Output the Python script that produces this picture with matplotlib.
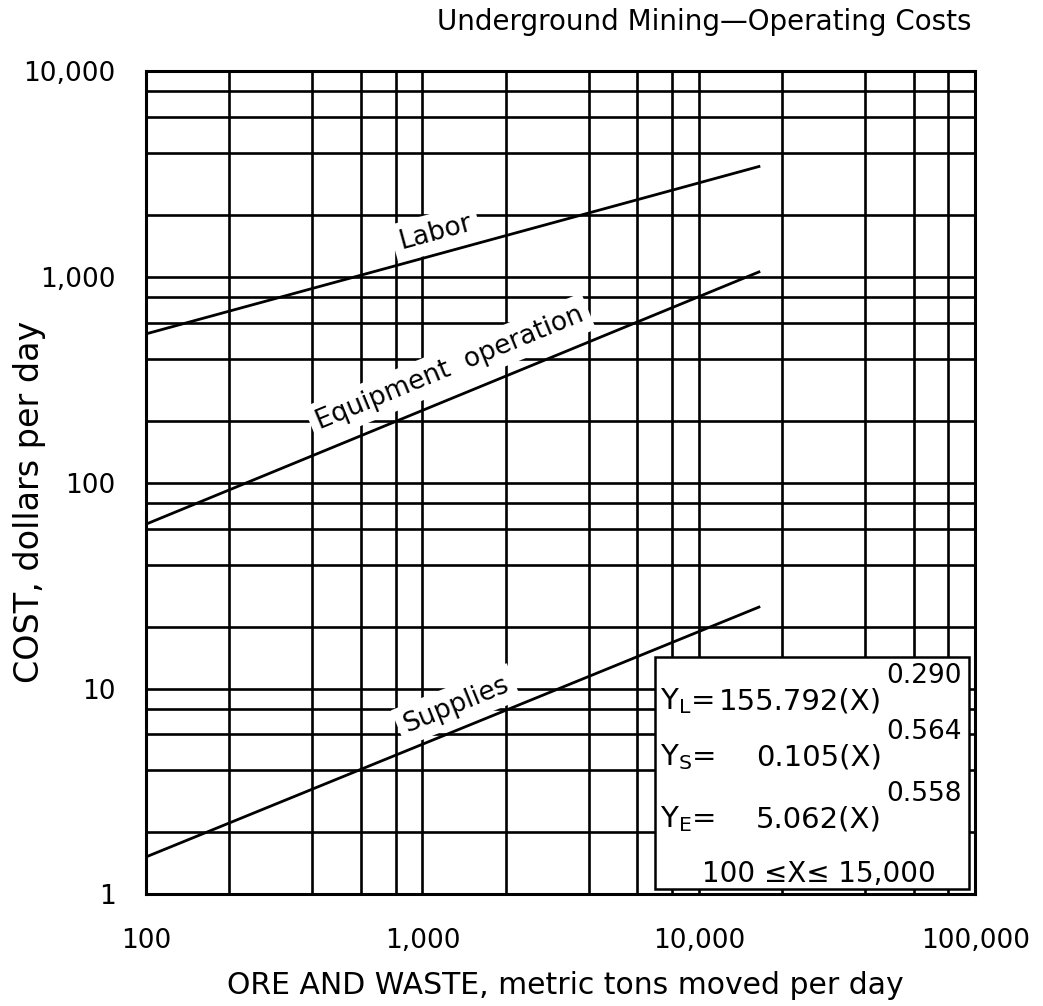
import numpy as np
import matplotlib
matplotlib.use('Agg')
import matplotlib.pyplot as plt
from matplotlib.ticker import LogLocator, NullFormatter, FixedLocator
from matplotlib.patches import Rectangle

plt.rcParams['font.family'] = ['DejaVu Sans']

# tonnage range covered by the cost curves (metric tons moved per day)
tons = [100, 16500]

# cost curves, dollars per day at the two ends of the range
labor_cost = [530, 3450]
equipment_cost = [63, 1060]
supplies_cost = [1.52, 24.9]

# fitted equations shown in the box
eq_names = ['L', 'S', 'E']
eq_coef = [155.792, 0.105, 5.062]
eq_expo = [0.290, 0.564, 0.558]

x_ticks = [100, 1000, 10000, 100000]
x_tick_labels = ['100', '1,000', '10,000', '100,000']
y_ticks = [1, 10, 100, 1000, 10000]
y_tick_labels = ['1', '10', '100', '1,000', '10,000']

fig = plt.figure(figsize=(10.43, 10.06), dpi=100)
ax = fig.add_axes([0.140, 0.111, 0.795, 0.818])
ax.set_xscale('log')
ax.set_yscale('log')
ax.set_xlim(100, 100000)
ax.set_ylim(1, 10000)

# log paper: lines at 1, 2, 4, 6, 8 of each decade
for axis in (ax.xaxis, ax.yaxis):
    axis.set_minor_locator(LogLocator(base=10, subs=[2, 4, 6, 8]))
    axis.set_minor_formatter(NullFormatter())
ax.xaxis.set_major_locator(FixedLocator(x_ticks))
ax.yaxis.set_major_locator(FixedLocator(y_ticks))
ax.set_xticklabels(x_tick_labels)
ax.set_yticklabels(y_tick_labels)
ax.set_axisbelow(True)
ax.grid(which='both', color='black', linewidth=1.9)
ax.tick_params(which='both', length=0)
ax.tick_params(axis='x', labelsize=19, pad=24)
ax.tick_params(axis='y', labelsize=19, pad=22)
for sp in ax.spines.values():
    sp.set_linewidth(2.2)

ax.plot(tons, labor_cost, color='black', lw=2.0, zorder=5)
ax.plot(tons, equipment_cost, color='black', lw=2.0, zorder=5)
ax.plot(tons, supplies_cost, color='black', lw=2.0, zorder=5)


def angle_of(xs, ys):
    p = ax.transData.transform(np.column_stack([xs, ys]))
    return np.degrees(np.arctan2(p[1, 1] - p[0, 1], p[1, 0] - p[0, 0]))


# curve names sit on white patches that break the grid
label_box = dict(boxstyle='square,pad=0.25', fc='white', ec='none')
ax.text(1135, 1525, 'Labor', fontsize=19, rotation=angle_of(tons, labor_cost),
        rotation_mode='anchor', ha='center', va='baseline', bbox=label_box, zorder=4)
ax.text(1284, 336, 'Equipment  operation', fontsize=19,
        rotation=angle_of(tons, equipment_cost),
        rotation_mode='anchor', ha='center', va='baseline', bbox=label_box, zorder=4)
ax.text(1355, 7.75, 'Supplies', fontsize=19, rotation=angle_of(tons, supplies_cost),
        rotation_mode='anchor', ha='center', va='baseline', bbox=label_box, zorder=4)

# equation box
ax.add_patch(Rectangle((0.614, 0.006), 0.379, 0.282, transform=ax.transAxes,
                       fc='white', ec='black', lw=1.8, zorder=6))
rows_y = [0.225, 0.157, 0.081]
for name, c, e, yb in zip(eq_names, eq_coef, eq_expo, rows_y):
    ax.text(0.620, yb, r'$\mathregular{Y_%s}$=' % name, transform=ax.transAxes,
            fontsize=21, ha='left', va='baseline', zorder=7)
    ax.text(0.887, yb, f'{c:.3f}(X)', transform=ax.transAxes,
            fontsize=21, ha='right', va='baseline', zorder=7)
    ax.text(0.893, yb + 0.032, f'{e:.3f}', transform=ax.transAxes,
            fontsize=19, ha='left', va='baseline', zorder=7)
ax.text(0.811, 0.015, f'{tons[0]:,} \u2264X\u2264 15,000', transform=ax.transAxes,
        fontsize=20, ha='center', va='baseline', zorder=7)

fig.text(0.931, 1 - 30 / 1006, 'Underground Mining\u2014Operating Costs',
         fontsize=20, ha='right', va='baseline')
fig.text(30 / 1043, 1 - 502 / 1006, 'COST, dollars per day', fontsize=24,
         rotation=90, ha='center', va='center')
fig.text(565 / 1043, 1 - 985 / 1006, 'ORE AND WASTE, metric tons moved per day',
         fontsize=21.5, ha='center', va='center')

fig.savefig('out.png', dpi=100, facecolor='white')
